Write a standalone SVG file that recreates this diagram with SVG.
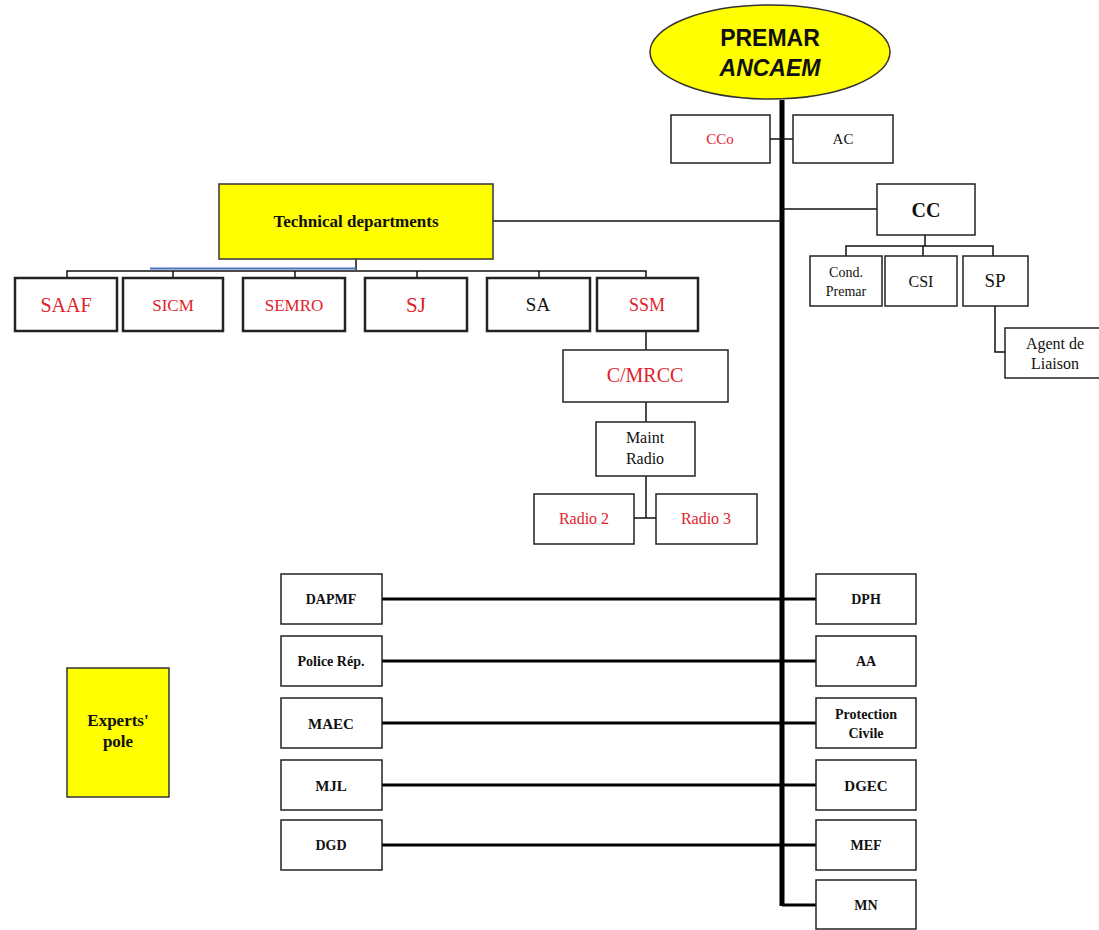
<svg xmlns="http://www.w3.org/2000/svg" width="1099" height="930" viewBox="0 0 1099 930">
<style>
.b{fill:#fff;stroke:#222;stroke-width:1.5}
.bt{fill:#fff;stroke:#222;stroke-width:2.5}
.y{fill:#ffff00;stroke:#333;stroke-width:1.5}
.t{font-family:"Liberation Serif",serif;text-anchor:middle;fill:#111}
.r{fill:#e0222b}
.bd{font-weight:bold}
.c{fill:none;stroke:#111;stroke-width:1.5}
.k{fill:none;stroke:#000;stroke-width:3}
</style>
<rect width="1099" height="930" fill="#fff"/>
<g id="connectors">
  <line x1="782" y1="100" x2="782" y2="906" stroke="#000" stroke-width="5"/>
  <path class="k" d="M782 905 H816"/>
  <path class="c" d="M770 139 H793"/>
  <path class="c" d="M493 221 H782"/>
  <path class="c" d="M782 209 H877"/>
  <path class="c" d="M925 235 V246 M846 256 V246 H993 V256 M923 246 V256"/>
  <path class="c" d="M995 306 V352 H1005"/>
  <path class="c" d="M356 259 V270 M67 278 V271 H646 V278 M173 271 V278 M295 271 V278 M417 271 V278 M539 271 V278"/>
  <path d="M150 268.5 H356" stroke="#4a72c0" stroke-width="2" fill="none"/>
  <path class="c" d="M646 331 V350 M646 402 V422 M646 476 V518 M634 518 H656"/>
  <path class="k" d="M382 599 H816 M382 661 H816 M382 723 H816 M382 785 H816 M382 845 H816"/>
</g>
<g id="premar">
  <ellipse cx="770" cy="52" rx="120" ry="47" fill="#ffff00" stroke="#333" stroke-width="1.5"/>
  <text x="770" y="46" font-family="Liberation Sans,sans-serif" font-weight="bold" font-size="23" text-anchor="middle" fill="#111">PREMAR</text>
  <text x="770" y="76" font-family="Liberation Sans,sans-serif" font-weight="bold" font-style="italic" font-size="23" text-anchor="middle" fill="#111">ANCAEM</text>
</g>
<g id="cco"><rect class="b" x="671" y="115" width="99" height="48"/><text class="t r" x="720" y="144" font-size="15">CCo</text></g>
<g id="ac"><rect class="b" x="793" y="115" width="100" height="48"/><text class="t" x="843" y="144" font-size="15">AC</text></g>
<g id="techdept"><rect class="y" x="219" y="184" width="274" height="75"/><text class="t bd" x="356" y="227" font-size="17">Technical departments</text></g>
<g id="cc"><rect class="b" x="877" y="184" width="98" height="51"/><text class="t bd" x="926" y="217" font-size="20">CC</text></g>
<g id="cond"><rect class="b" x="810" y="256" width="72" height="50"/><text class="t" x="846" y="277" font-size="14">Cond.</text><text class="t" x="846" y="296" font-size="14">Premar</text></g>
<g id="csi"><rect class="b" x="885" y="256" width="72" height="50"/><text class="t" x="921" y="287" font-size="16">CSI</text></g>
<g id="sp"><rect class="b" x="963" y="256" width="65" height="50"/><text class="t" x="995" y="287" font-size="19">SP</text></g>
<g id="agent"><rect class="b" x="1005" y="328" width="96" height="50"/><text class="t" x="1055" y="349" font-size="16">Agent de</text><text class="t" x="1055" y="369" font-size="16">Liaison</text></g>
<g id="saaf"><rect class="bt" x="15" y="278" width="102" height="53"/><text class="t r" x="66" y="312" font-size="20">SAAF</text></g>
<g id="sicm"><rect class="bt" x="123" y="278" width="100" height="53"/><text class="t r" x="173" y="311" font-size="17">SICM</text></g>
<g id="semro"><rect class="bt" x="243" y="278" width="102" height="53"/><text class="t r" x="294" y="311" font-size="17">SEMRO</text></g>
<g id="sj"><rect class="bt" x="365" y="278" width="102" height="53"/><text class="t r" x="416" y="312" font-size="21">SJ</text></g>
<g id="sa"><rect class="bt" x="487" y="278" width="103" height="53"/><text class="t" x="538" y="311" font-size="19">SA</text></g>
<g id="ssm"><rect class="bt" x="597" y="278" width="101" height="53"/><text class="t r" x="647" y="311" font-size="18">SSM</text></g>
<g id="cmrcc"><rect class="b" x="563" y="350" width="165" height="52"/><text class="t r" x="645" y="382" font-size="20">C/MRCC</text></g>
<g id="maint"><rect class="b" x="596" y="422" width="99" height="54"/><text class="t" x="645" y="443" font-size="16">Maint</text><text class="t" x="645" y="464" font-size="16">Radio</text></g>
<g id="radio2"><rect class="b" x="534" y="494" width="100" height="50"/><text class="t r" x="584" y="524" font-size="16">Radio 2</text></g>
<g id="radio3"><rect class="b" x="656" y="494" width="101" height="50"/><text class="t r" x="706" y="524" font-size="16">Radio 3</text></g>
<g id="dapmf"><rect class="b" x="281" y="574" width="101" height="50"/><text class="t bd" x="331" y="604" font-size="14">DAPMF</text></g>
<g id="police"><rect class="b" x="281" y="636" width="101" height="50"/><text class="t bd" x="331" y="666" font-size="14">Police Rép.</text></g>
<g id="maec"><rect class="b" x="281" y="698" width="101" height="50"/><text class="t bd" x="331" y="729" font-size="15">MAEC</text></g>
<g id="mjl"><rect class="b" x="281" y="760" width="101" height="50"/><text class="t bd" x="331" y="791" font-size="15">MJL</text></g>
<g id="dgd"><rect class="b" x="281" y="820" width="101" height="50"/><text class="t bd" x="331" y="850" font-size="14">DGD</text></g>
<g id="dph"><rect class="b" x="816" y="574" width="100" height="50"/><text class="t bd" x="866" y="604" font-size="14">DPH</text></g>
<g id="aa"><rect class="b" x="816" y="636" width="100" height="50"/><text class="t bd" x="866" y="666" font-size="14">AA</text></g>
<g id="protection"><rect class="b" x="816" y="698" width="100" height="50"/><text class="t bd" x="866" y="719" font-size="14">Protection</text><text class="t bd" x="866" y="738" font-size="14">Civile</text></g>
<g id="dgec"><rect class="b" x="816" y="760" width="100" height="50"/><text class="t bd" x="866" y="791" font-size="15">DGEC</text></g>
<g id="mef"><rect class="b" x="816" y="820" width="100" height="50"/><text class="t bd" x="866" y="850" font-size="14">MEF</text></g>
<g id="mn"><rect class="b" x="816" y="880" width="100" height="49"/><text class="t bd" x="866" y="910" font-size="14">MN</text></g>
<g id="experts"><rect class="y" x="67" y="668" width="102" height="129"/><text class="t bd" x="118" y="726" font-size="17">Experts'</text><text class="t bd" x="118" y="747" font-size="17">pole</text></g>
</svg>
